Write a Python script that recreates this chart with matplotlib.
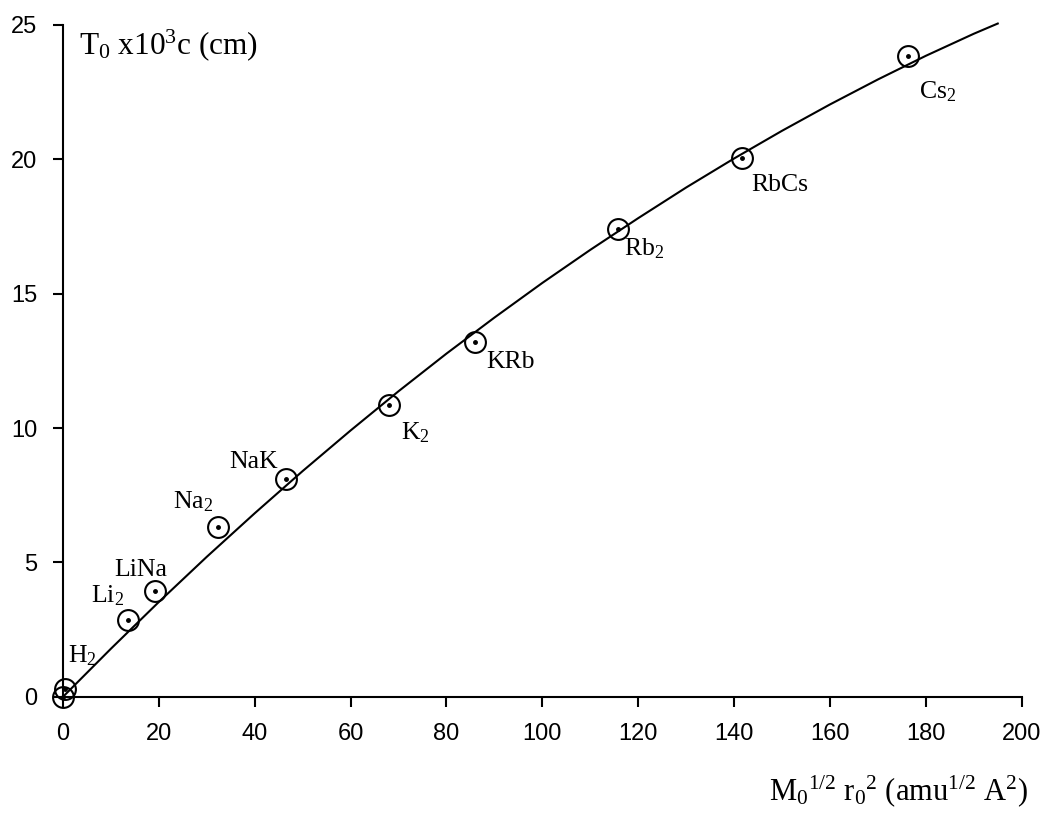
import numpy as np
import matplotlib
matplotlib.use('Agg')
import matplotlib.pyplot as plt

plt.rcParams['mathtext.fontset'] = 'custom'
plt.rcParams['mathtext.rm'] = 'Liberation Serif'
plt.rcParams['mathtext.it'] = 'Liberation Serif:italic'

# molecules: x = M0^(1/2) r0^2, y = T0 x10^3 c
names = ['', 'H$_2$', 'Li$_2$', 'LiNa', 'Na$_2$', 'NaK', 'K$_2$', 'KRb', 'Rb$_2$', 'RbCs', 'Cs$_2$']
x_pts = [0.0, 0.4, 13.5, 19.3, 32.3, 46.6, 68.0, 85.9, 115.8, 141.7, 176.2]
y_pts = [0.0, 0.28, 2.87, 3.95, 6.33, 8.1, 10.87, 13.2, 17.39, 20.05, 23.86]

# label anchor (left, baseline) for each molecule
lab_x = [None, 1.0, 5.8, 10.7, 22.9, 34.6, 70.6, 88.4, 117.1, 143.6, 178.6]
lab_y = [None, 1.27, 3.5, 4.48, 7.0, 8.51, 9.57, 12.25, 16.42, 18.81, 22.25]

# fitted curve
curve_x = [0, 10, 20, 30, 40, 50, 60, 70, 80, 90, 100, 110, 120, 130, 140, 150, 160, 170, 180, 190, 195]
curve_y = [0, 1.79, 3.53, 5.21, 6.83, 8.40, 9.91, 11.37, 12.77, 14.11, 15.40, 16.63, 17.81, 18.95,
           20.03, 21.06, 22.04, 22.97, 23.85, 24.67, 25.05]

fig = plt.figure(figsize=(10.49, 8.16), dpi=100)
ax = fig.add_axes([0.060, 0.146, 0.914, 0.8235])

ax.plot(curve_x, curve_y, color='black', lw=1.5, clip_on=False)
ax.plot(x_pts, y_pts, 'o', ms=15, mfc='none', mec='black', mew=1.5, clip_on=False, zorder=3)
ax.plot(x_pts, y_pts, 'o', ms=2.5, color='black', clip_on=False, zorder=3)

for nm, lx, ly in zip(names, lab_x, lab_y):
    if lx is None:
        continue
    ax.text(lx, ly, nm, fontsize=18.5, family='Liberation Serif', ha='left', va='baseline')

ax.text(3.3, 23.9, r'T$_0$ x10$^3$c (cm)', fontsize=22.5, family='Liberation Serif',
        ha='left', va='baseline')
fig.text(0.980, 0.0196, r'M$_0$$^{1/2}$ r$_0$$^2$ (amu$^{1/2}$ A$^2$)', fontsize=22,
         family='Liberation Serif', ha='right', va='baseline')

ax.set_xlim(0, 200)
ax.set_ylim(0, 25)
ax.set_xticks(np.arange(0, 201, 20))
ax.set_yticks(np.arange(0, 26, 5))
for s in ['top', 'right']:
    ax.spines[s].set_visible(False)
for s in ['left', 'bottom']:
    ax.spines[s].set_linewidth(1.5)
ax.tick_params(direction='out', length=7.5, width=1.5, labelsize=17, pad=11)
for lbl in ax.get_xticklabels() + ax.get_yticklabels():
    lbl.set_family('Liberation Sans')

plt.savefig('out.png', dpi=100, facecolor='white')
